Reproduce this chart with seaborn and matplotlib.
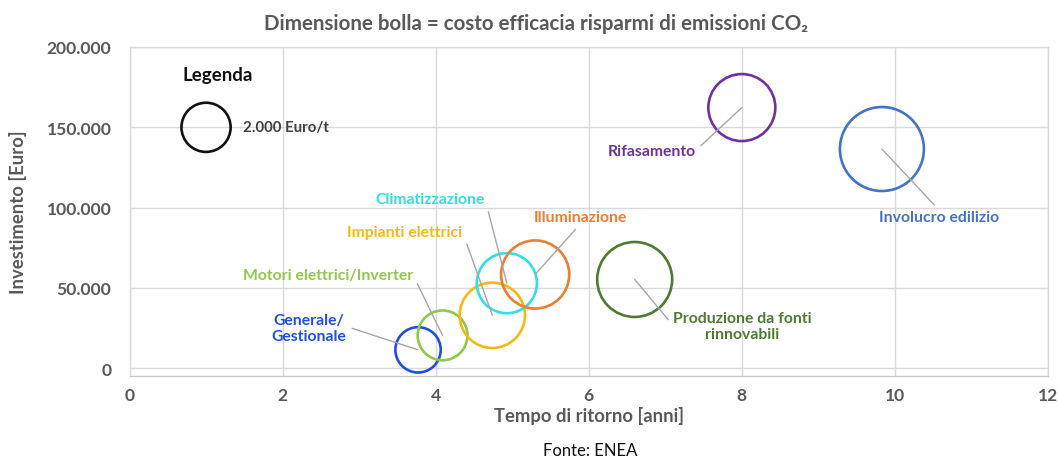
import numpy as np
import pandas as pd
import matplotlib
matplotlib.use("Agg")
import matplotlib.pyplot as plt
import seaborn as sns

# ---------------- data ----------------
categories = ["Generale/\nGestionale", "Motori elettrici/Inverter", "Impianti elettrici",
              "Climatizzazione", "Illuminazione", "Produzione da fonti\nrinnovabili",
              "Rifasamento", "Involucro edilizio"]
tempo_ritorno = [3.77, 4.09, 4.74, 4.93, 5.30, 6.60, 8.00, 9.83]          # anni
investimento = [11500, 20500, 33000, 53000, 58400, 55300, 162300, 136500]  # Euro
costo_efficacia = [1700, 2050, 3530, 2990, 3840, 4650, 3710, 5830]         # Euro/t
legend_value = 2000
legend_label = "2.000 Euro/t"
x_ticks = [0, 2, 4, 6, 8, 10, 12]
y_ticks = [0, 50000, 100000, 150000, 200000]
y_tick_labels = ["0", "50.000", "100.000", "150.000", "200.000"]

# ---------------- styles / layout ----------------
colors = ["#1f4fe0", "#8fc84a", "#f6b913", "#2fe0e6", "#ed7d31", "#4f7a32", "#7030a0", "#4472c4"]
label_layout = {  # x, y (data coords), relpos of leader start on text box
    "Generale/\nGestionale": (2.34, 25200, (1.0, 0.55)),
    "Motori elettrici/Inverter": (2.59, 58300, (1.0, 0.5)),
    "Impianti elettrici": (3.60, 84700, (1.0, 0.5)),
    "Climatizzazione": (3.93, 105400, (1.0, 0.5)),
    "Illuminazione": (5.89, 94200, (0.5, 0.0)),
    "Produzione da fonti\nrinnovabili": (8.01, 26500, (0.0, 0.5)),
    "Rifasamento": (6.82, 135500, (1.0, 0.5)),
    "Involucro edilizio": (10.58, 94000, (0.5, 1.0)),
}
legend_pos = (1.0, 150000)
size_scale = 0.627  # points^2 per Euro/t

sns.set_theme(style="whitegrid")
plt.rcParams["font.family"] = ["Lato", "DejaVu Sans"]

fig = plt.figure(figsize=(10.6, 4.6), dpi=100)
ax = fig.add_axes([129.5 / 1060, 1 - 376.7 / 460, (1048 - 129.5) / 1060, (376.7 - 48) / 460])

df = pd.DataFrame({"categoria": categories, "tempo": tempo_ritorno,
                   "investimento": investimento, "costo": costo_efficacia})
palette = dict(zip(categories, colors))

sns.scatterplot(data=df, x="tempo", y="investimento", hue="categoria", palette=palette,
                size="costo", sizes={c: c * size_scale for c in costo_efficacia},
                legend=False, ax=ax, linewidth=1.9, zorder=3)
coll = ax.collections[-1]
coll.set_edgecolors(coll.get_facecolors())
coll.set_facecolors("none")

# legend bubble
leg_df = pd.DataFrame({"x": [legend_pos[0]], "y": [legend_pos[1]], "costo": [legend_value]})
sns.scatterplot(data=leg_df, x="x", y="y", size="costo", sizes={legend_value: legend_value * size_scale},
                legend=False, ax=ax, color="black", linewidth=1.9, zorder=3)
coll2 = ax.collections[-1]
coll2.set_edgecolors("#111111")
coll2.set_facecolors("none")

ax.text(1.156, 182600, "Legenda", ha="center", va="center", fontsize=13.5,
        fontweight="bold", color="#111111")
ax.text(1.48, legend_pos[1], legend_label, ha="left", va="center", fontsize=10.8,
        fontweight="bold", color="#404040")

# labels with leader lines
for cat, x, y, col in zip(categories, tempo_ritorno, investimento, colors):
    lx, ly, rp = label_layout[cat]
    ax.annotate(cat, xy=(x, y), xytext=(lx, ly), textcoords="data", ha="center", va="center",
                fontsize=11.3, fontweight="bold", color=col, linespacing=1.15, zorder=4,
                arrowprops=dict(arrowstyle="-", color="#a6a6a6", lw=1.0, shrinkA=2, shrinkB=0,
                                relpos=rp))

ax.set_xlim(0, 12)
ax.set_ylim(-4600, 200000)
ax.set_xticks(x_ticks)
ax.set_xticklabels([str(t) for t in x_ticks])
ax.set_yticks(y_ticks)
ax.set_yticklabels(y_tick_labels)
ax.get_ygridlines()[0].set_visible(False)
ax.grid(True, color="#d9d9d9", lw=1.0)
for s in ax.spines.values():
    s.set_visible(True)
    s.set_color("#d9d9d9")
    s.set_linewidth(1.0)
ax.spines["bottom"].set_color("#c9c9c9")
ax.tick_params(axis="both", length=0, labelsize=12.6, labelcolor="#595959")
ax.tick_params(axis="y", pad=13)
ax.tick_params(axis="x", pad=8)
for lab in ax.get_xticklabels() + ax.get_yticklabels():
    lab.set_fontweight("bold")

ax.set_xlabel("Tempo di ritorno [anni]", fontsize=13.3, fontweight="bold", color="#595959")
ax.set_ylabel("Investimento [Euro]", fontsize=13.3, fontweight="bold", color="#595959")
ax.xaxis.set_label_coords(0.5, -0.093)
ax.yaxis.set_label_coords(-0.112, 0.5)

fig.text(536 / 1060, 1 - 24 / 460, "Dimensione bolla = costo efficacia risparmi di emissioni CO₂",
         ha="center", va="center", fontsize=14.8, fontweight="bold", color="#595959")
fig.text(590 / 1060, 1 - 451 / 460, "Fonte: ENEA", ha="center", va="center", fontsize=12,
         color="#111111")

fig.savefig("out.png", dpi=100)
